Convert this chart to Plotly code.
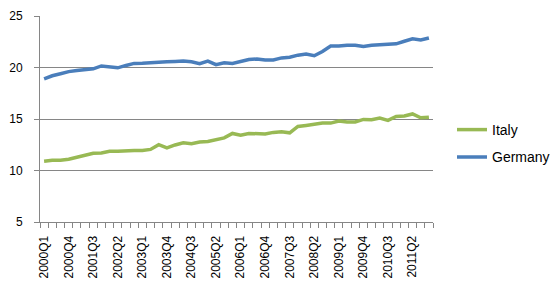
import plotly.graph_objects as go

quarters = [f"{y}Q{q}" for y in range(2000, 2012) for q in range(1, 5)]

germany = [18.9, 19.2, 19.4, 19.6, 19.7, 19.78, 19.87, 20.15, 20.1, 19.97,
           20.2, 20.4, 20.42, 20.49, 20.55, 20.55, 20.58, 20.62, 20.55, 20.37,
           20.62, 20.28, 20.45, 20.4, 20.58, 20.77, 20.83, 20.74, 20.74, 20.93,
           20.99, 21.2, 21.3, 21.14, 21.55, 22.08, 22.08, 22.17, 22.17, 22.05,
           22.17, 22.2, 22.2, 22.3, 22.55, 22.78, 22.68, 22.87]

italy = [10.9, 11.0, 11.0, 11.09, 11.28, 11.49, 11.68, 11.7, 11.86, 11.86,
         11.92, 11.95, 11.95, 12.05, 12.51, 12.2, 12.48, 12.7, 12.6, 12.76,
         12.82, 13.0, 13.17, 13.6, 13.42, 13.6, 13.54, 13.54, 13.7, 13.76,
         13.66, 14.28, 14.38, 14.53, 14.6, 14.6, 14.81, 14.72, 14.72, 14.96,
         14.93, 15.09, 14.87, 15.24, 15.3, 15.49, 15.12, 15.18]

label_step = 3
idx = list(range(len(quarters)))
tick_idx = idx[::label_step]
tick_txt = quarters[::label_step]

GRID = "#868686"
FONT = "Liberation Sans"

fig = go.Figure()
fig.add_trace(go.Scatter(x=idx, y=italy, mode="lines", name="Italy", showlegend=True,
                         line=dict(color="#98B954", width=3.5), legend="legend"))
fig.add_trace(go.Scatter(x=idx, y=germany, mode="lines", name="Germany", showlegend=True,
                         line=dict(color="#4A7EBB", width=3.5), legend="legend2"))

leg_common = dict(xref="container", yref="container", xanchor="left", yanchor="middle",
                  font=dict(size=14), bgcolor="rgba(0,0,0,0)", borderwidth=0)

fig.update_layout(
    width=553, height=288,
    showlegend=True,
    margin=dict(l=35, r=120, t=9.5, b=64),
    paper_bgcolor="white", plot_bgcolor="white",
    font=dict(family=FONT, size=12, color="#000000"),
    legend=dict(x=452/553, y=1-130/288, visible=True, **leg_common),
    legend2=dict(x=452/553, y=1-157.3/288, visible=True, **leg_common),
    xaxis=dict(range=[-0.5, len(quarters)-0.5], tickmode="array",
               tickvals=tick_idx, ticktext=tick_txt, tickangle=-90,
               ticks="", showgrid=False, showline=True, linecolor=GRID,
               linewidth=1, zeroline=False, ticklabelstandoff=8,
               minor=dict(tick0=-0.5, dtick=1, ticks="outside", ticklen=5,
                          tickcolor=GRID, showgrid=False),
               tickfont=dict(size=12)),
    yaxis=dict(range=[5, 25], dtick=5, tick0=5, showgrid=True, gridcolor=GRID,
               gridwidth=1, showline=True, linecolor=GRID, linewidth=1,
               ticks="outside", ticklen=5, tickcolor=GRID, zeroline=False,
               ticklabelstandoff=9, tickfont=dict(size=12)),
)

fig.write_html("out.html")
